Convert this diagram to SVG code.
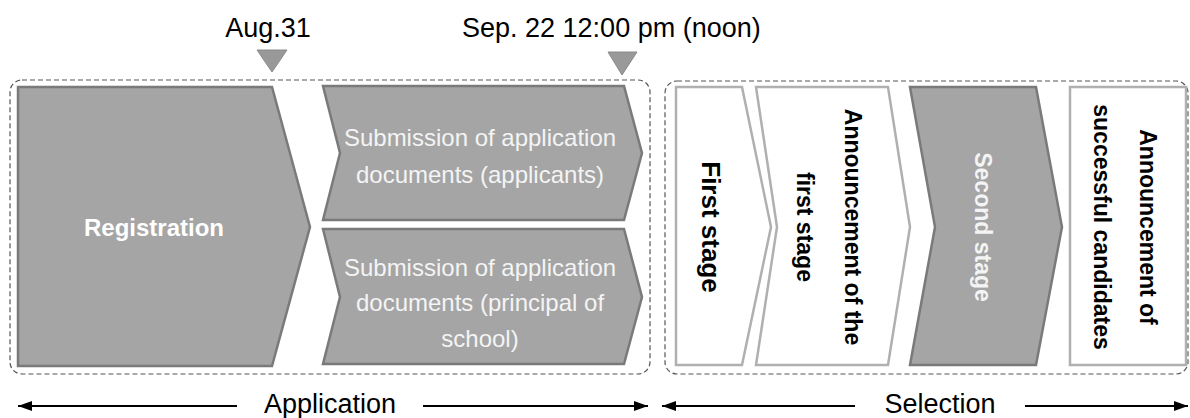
<svg xmlns="http://www.w3.org/2000/svg" width="1190" height="418" viewBox="0 0 1190 418">
<defs>
<style>
text{font-family:"Liberation Sans",Arial,sans-serif}
.dark{fill:#a5a5a5;stroke:#7a7a7a;stroke-width:2.5}
.light{fill:#fff;stroke:#b0b0b0;stroke-width:2.5}
.group{fill:none;stroke:#555;stroke-width:1.2;stroke-dasharray:5 3}
.wt{fill:#f4f4f4;font-size:24px;text-anchor:middle}
.bt{fill:#000;font-size:23px;font-weight:bold;text-anchor:middle;dominant-baseline:central}
.lbl{fill:#000;font-size:27px;text-anchor:middle}
.line{stroke:#000;stroke-width:2;fill:none}
.tri{fill:#999;stroke:#8a8a8a;stroke-width:1}
</style>
<marker id="ah2" viewBox="0 0 14 10" refX="14" refY="5" markerWidth="14" markerHeight="10" markerUnits="userSpaceOnUse" orient="auto-start-reverse">
<path d="M0,0 L14,5 L0,10 z" fill="#000"/>
</marker>
</defs>
<rect id="application-box" class="group" x="10" y="80" width="640" height="294" rx="12"/>
<rect id="selection-box" class="group" x="665" y="81" width="523" height="293" rx="12"/>
<g id="registration">
<polygon class="dark" points="18,87 272,87 310,227 272,366 18,366"/>
<text x="154" y="236" class="wt" style="font-weight:bold;fill:#fff">Registration</text>
</g>
<g id="submission-applicants">
<polygon class="dark" points="323,86 624,86 642,153 624,220 323,220 340,153"/>
<text x="480" y="146" class="wt">Submission of application</text>
<text x="480" y="183" class="wt">documents (applicants)</text>
</g>
<g id="submission-principal">
<polygon class="dark" points="323,229 624,229 642,297 624,364 323,364 340,297"/>
<text x="480" y="276" class="wt">Submission of application</text>
<text x="480" y="311" class="wt">documents (principal of</text>
<text x="480" y="347" class="wt">school)</text>
</g>
<g id="first-stage">
<polygon class="light" points="676,87 742,87 771,227 742,365 676,365"/>
<text class="bt" transform="translate(711,227) rotate(90)" x="0" y="0" style="font-size:26px">First stage</text>
</g>
<g id="announcement-first">
<polygon class="light" points="756,87 888,87 910,227 888,365 756,365 777,227"/>
<text class="bt" transform="translate(829,227) rotate(90)" x="0" y="-24">Announcement of the</text>
<text class="bt" transform="translate(829,227) rotate(90)" x="0" y="24">first stage</text>
</g>
<g id="second-stage">
<polygon class="dark" points="910,87 1036,87 1062,227 1036,365 910,365 935,227"/>
<text class="bt" transform="translate(983,227) rotate(90)" x="0" y="0" style="fill:#f4f4f4">Second stage</text>
</g>
<g id="announcement-successful">
<rect class="light" x="1070" y="87" width="116" height="278"/>
<text class="bt" transform="translate(1125,227) rotate(90)" x="0" y="-23">Announcement of</text>
<text class="bt" transform="translate(1125,227) rotate(90)" x="0" y="23">successful candidates</text>
</g>
<g id="deadlines">
<text x="268" y="37" class="lbl">Aug.31</text>
<polygon class="tri" points="257,50 287,50 272,72"/>
<text x="462" y="37" class="lbl" style="text-anchor:start">Sep. 22 12:00 pm (noon)</text>
<polygon class="tri" points="608,52 637,52 622,75"/>
</g>
<g id="connectors">
<line class="line" x1="237" y1="406" x2="18" y2="406" marker-end="url(#ah2)"/>
<line class="line" x1="423" y1="406" x2="648" y2="406" marker-end="url(#ah2)"/>
<line class="line" x1="855" y1="406" x2="662" y2="406" marker-end="url(#ah2)"/>
<line class="line" x1="1025" y1="406" x2="1188" y2="406" marker-end="url(#ah2)"/>
</g>
<text x="330" y="413" class="lbl">Application</text>
<text x="940" y="413" class="lbl">Selection</text>
</svg>
